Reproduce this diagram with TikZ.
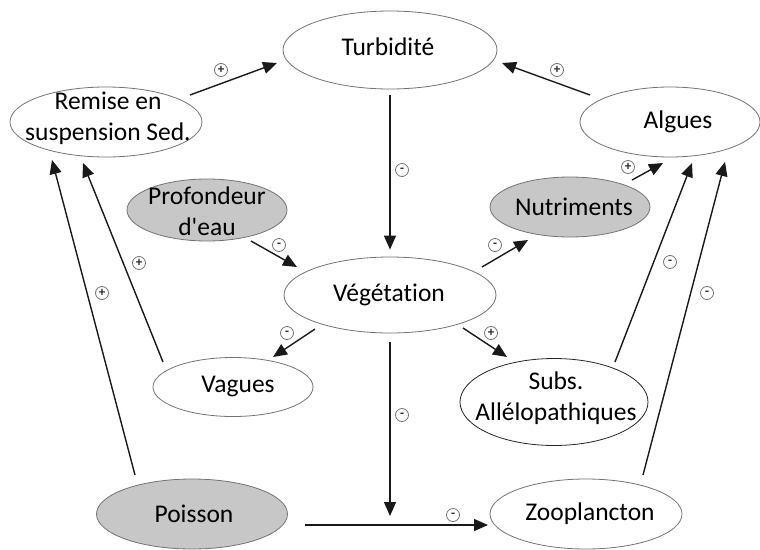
\documentclass[tikz,border=0pt]{standalone}
\usepackage{fontspec}
\setmainfont{Carlito}[Ligatures=NoCommon]
\usetikzlibrary{arrows.meta,shapes.geometric,calc}
\begin{document}
\begin{tikzpicture}[x=1pt,y=1pt,
  ell/.style={ellipse, draw=black!55, line width=0.8pt, inner sep=0pt, fill=white},
  grey/.style={ell, fill=black!22},
  txt/.style={align=center, inner sep=0pt, font=\fontsize{25.5}{31}\selectfont, text=black},
  arr/.style={line width=1.4pt, draw=black!90, -{Triangle[length=14pt,width=12pt]}},
  sg/.style={circle, draw=black!55, line width=0.8pt, minimum size=13pt, inner sep=0pt, font=\fontsize{13}{13}\selectfont\bfseries, text=black!85}
]
\useasboundingbox (0,0) rectangle (760,-549);

% nodes
\node[ell, minimum width=214pt, minimum height=78pt] (tur) at (390,-50) {};
\node[txt] (turt) at (388,-47) {Turbidité};
\node[ell, minimum width=192pt, minimum height=70pt] (rem) at (106,-122) {};
\node[txt] (remt) at (108,-118) {Remise en\\suspension Sed.};
\node[ell, minimum width=180pt, minimum height=70pt] (alg) at (670,-122) {};
\node[txt] (algt) at (678,-122) {Algues};
\node[grey, minimum width=160pt, minimum height=62pt] (prof) at (207,-210) {};
\node[txt] (proft) at (207,-211) {Profondeur\\d\textquotesingle eau};
\node[grey, minimum width=160pt, minimum height=60pt] (nut) at (570,-207) {};
\node[txt] (nutt) at (574,-207) {Nutriments};
\node[ell, minimum width=212pt, minimum height=76pt] (veg) at (390,-295) {};
\node[txt] (vegt) at (389,-295) {Végétation};
\node[ell, minimum width=160pt, minimum height=59pt] (vag) at (233,-387) {};
\node[txt] (vagt) at (238,-387) {Vagues};
\node[ell, draw=black!85, minimum width=188pt, minimum height=87pt] (subs) at (554,-402) {};
\node[txt] (subst) at (556,-398) {Subs.\\Allélopathiques};
\node[grey, minimum width=191pt, minimum height=70pt] (poi) at (192,-514) {};
\node[txt] (poit) at (194,-514) {Poisson};
\node[ell, minimum width=192pt, minimum height=70pt] (zoo) at (586,-514) {};
\node[txt] (zoot) at (590,-514) {Zooplancton};

% connectors
\draw[arr] ($(rem)+(84,27)$) -- ($(tur)+(-113,-13)$);
\draw[arr] ($(alg)+(-80,27)$) -- ($(tur)+(112,-13)$);
\draw[arr, shorten <=6pt, shorten >=7pt] (tur.south) -- (veg.north);
\draw[arr] ($(prof)+(44,-31)$) -- ($(veg)+(-93,28)$);
\draw[arr] ($(veg)+(92,28)$) -- ($(nut)+(-42,-33)$);
\draw[arr] ($(nut)+(62,27)$) -- ($(alg)+(-7,-41)$);
\draw[arr] ($(veg)+(-75,-34)$) -- ($(vag)+(40,30)$);
\draw[arr] ($(veg)+(73,-33)$) -- ($(subs)+(-47,45)$);
\draw[arr] ($(vag)+(-70,25)$) -- ($(rem)+(-23,-41)$);
\draw[arr] ($(poi)+(-57,39)$) -- ($(rem)+(-54,-38)$);
\draw[arr] ($(subs)+(61,40)$) -- ($(alg)+(22,-41)$);
\draw[arr] ($(zoo)+(57,39)$) -- ($(alg)+(55,-40)$);
\draw[arr] ($(poi)+(113,-11)$) -- ($(zoo)+(-98,-11)$);
\coordinate (mod) at ($(veg)+(0,-221)$);
\draw[arr, shorten <=9pt] (veg.south) -- (mod);

% signs
\node[sg] (s1) at (221,-70) {+};
\node[sg] (s2) at (557,-70) {+};
\node[sg] (s3) at (402,-170) {-};
\node[sg] (s4) at (279,-245) {-};
\node[sg] (s5) at (495,-245) {-};
\node[sg] (s6) at (628,-167) {+};
\node[sg] (s7) at (287,-333) {-};
\node[sg] (s8) at (491,-333) {+};
\node[sg] (s9) at (139,-263) {+};
\node[sg] (s10) at (102,-293) {+};
\node[sg] (s11) at (670,-262) {-};
\node[sg] (s12) at (707,-293) {-};
\node[sg] (s13) at (402,-415) {-};
\node[sg] (s14) at (453,-515) {-};
\end{tikzpicture}
\end{document}
